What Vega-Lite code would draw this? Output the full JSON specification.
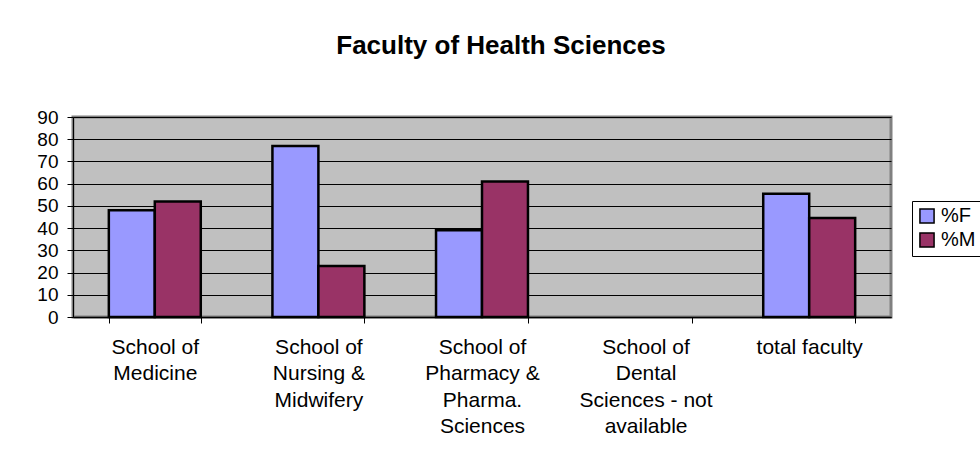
{
  "$schema": "https://vega.github.io/schema/vega-lite/v6.json",
  "autosize": {"type": "none"},
  "width": 818,
  "height": 200,
  "padding": {"left": 73, "top": 117, "right": 89, "bottom": 144},
  "background": "white",
  "title": {
    "text": "Faculty of Health Sciences",
    "font": "Liberation Sans",
    "fontSize": 26,
    "fontWeight": "bold",
    "color": "black",
    "anchor": "middle",
    "dx": 19,
    "baseline": "alphabetic",
    "offset": 28
  },
  "data": {
    "values": [
      {"school": "School of Medicine", "series": "%F", "value": 48},
      {"school": "School of Medicine", "series": "%M", "value": 52},
      {"school": "School of Nursing & Midwifery", "series": "%F", "value": 77},
      {"school": "School of Nursing & Midwifery", "series": "%M", "value": 23},
      {"school": "School of Pharmacy & Pharma. Sciences", "series": "%F", "value": 39},
      {"school": "School of Pharmacy & Pharma. Sciences", "series": "%M", "value": 61},
      {"school": "total faculty", "series": "%F", "value": 55.5},
      {"school": "total faculty", "series": "%M", "value": 44.5}
    ]
  },
  "mark": {"type": "bar", "stroke": "black", "strokeWidth": 2.5},
  "encoding": {
    "x": {
      "field": "school",
      "type": "nominal",
      "sort": null,
      "scale": {
        "domain": ["School of Medicine", "School of Nursing & Midwifery", "School of Pharmacy & Pharma. Sciences", "School of Dental Sciences - not available", "total faculty"],
        "paddingInner": 0.438,
        "paddingOuter": 0.219
      },
      "axis": {
        "title": null,
        "labelAngle": 0,
        "labelExpr": "datum.value == 'School of Medicine' ? ['School of', 'Medicine'] : datum.value == 'School of Nursing & Midwifery' ? ['School of', 'Nursing &', 'Midwifery'] : datum.value == 'School of Pharmacy & Pharma. Sciences' ? ['School of', 'Pharmacy &', 'Pharma.', 'Sciences'] : datum.value == 'School of Dental Sciences - not available' ? ['School of', 'Dental', 'Sciences - not', 'available'] : datum.value",
        "labelFont": "Liberation Sans",
        "labelFontSize": 21,
        "labelLineHeight": 26.5,
        "labelColor": "black",
        "labelPadding": 13,
        "labelBaseline": "top",
        "tickBand": "extent",
        "tickColor": "black",
        "tickSize": 6,
        "domainColor": "black",
        "domainWidth": 1.5,
        "grid": false
      }
    },
    "xOffset": {"field": "series", "type": "nominal", "sort": ["%F", "%M"], "scale": {"paddingInner": 0, "paddingOuter": 0}},
    "y": {
      "field": "value",
      "type": "quantitative",
      "scale": {"domain": [0, 90], "nice": false},
      "axis": {
        "title": null,
        "values": [0, 10, 20, 30, 40, 50, 60, 70, 80, 90],
        "labelFont": "Liberation Sans",
        "labelFontSize": 19,
        "labelColor": "black",
        "labelPadding": 9,
        "tickColor": "black",
        "tickSize": 6,
        "domainColor": "black",
        "grid": true,
        "gridColor": "black",
        "gridWidth": 1.2
      }
    },
    "color": {
      "field": "series",
      "type": "nominal",
      "sort": ["%F", "%M"],
      "scale": {"domain": ["%F", "%M"], "range": ["#9999FF", "#993366"]},
      "legend": {
        "title": null,
        "orient": "none",
        "legendX": 839,
        "legendY": 84,
        "symbolType": "square",
        "symbolSize": 200,
        "symbolStrokeColor": "black",
        "symbolStrokeWidth": 1.5,
        "symbolOpacity": 1,
        "labelFont": "Liberation Sans",
        "labelFontSize": 20,
        "labelColor": "black",
        "labelOffset": 4,
        "strokeColor": "black",
        "fillColor": "white",
        "padding": 5,
        "rowPadding": 2
      }
    }
  },
  "config": {
    "view": {"fill": "#C0C0C0", "stroke": "#808080", "strokeWidth": 3}
  }
}
